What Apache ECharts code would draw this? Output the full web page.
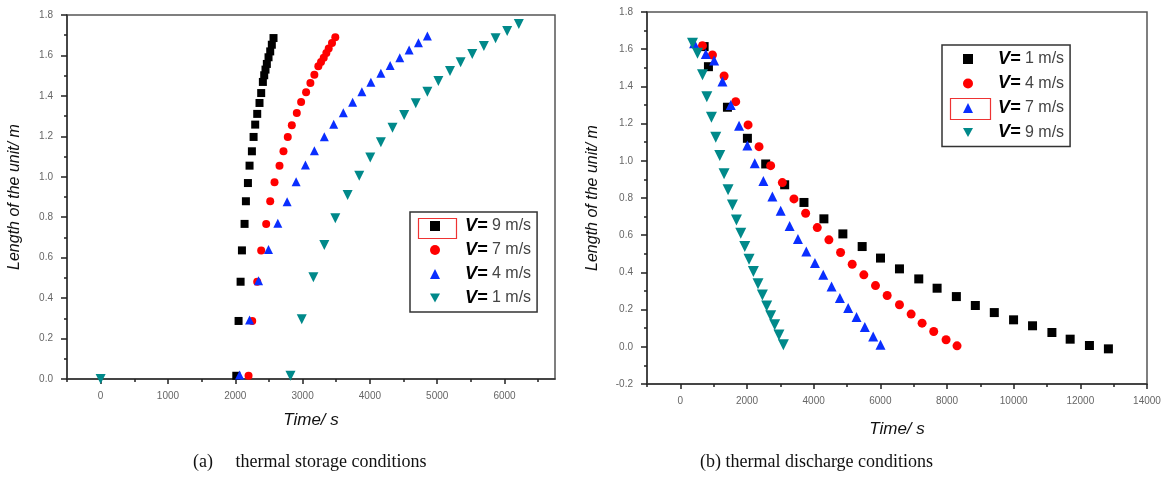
<!DOCTYPE html>
<html>
<head>
<meta charset="utf-8">
<script src="https://cdn.jsdelivr.net/npm/echarts@6/dist/echarts.min.js"></script>
<style>html,body{margin:0;padding:0;background:#fff}#c{width:1175px;height:479px}</style>
</head>
<body>
<div id="c"></div>
<script>
// (a) thermal storage conditions
const storageV9X = [2015, 2049, 2079, 2099, 2138, 2158, 2188, 2212, 2247, 2272, 2296, 2326, 2360, 2385, 2410, 2430, 2449, 2469, 2494, 2519, 2543, 2568];
const storageV9Y = [0.016, 0.287, 0.481, 0.636, 0.767, 0.879, 0.969, 1.055, 1.126, 1.197, 1.258, 1.311, 1.365, 1.414, 1.469, 1.502, 1.530, 1.558, 1.591, 1.620, 1.653, 1.686];
const storageV7X = [2197, 2252, 2326, 2385, 2459, 2519, 2583, 2657, 2716, 2780, 2840, 2914, 2978, 3052, 3116, 3175, 3234, 3274, 3314, 3353, 3388, 3437, 3486];
const storageV7Y = [0.016, 0.287, 0.481, 0.636, 0.767, 0.879, 0.973, 1.055, 1.126, 1.197, 1.255, 1.316, 1.370, 1.418, 1.464, 1.505, 1.546, 1.568, 1.588, 1.612, 1.634, 1.662, 1.690];
const storageV4X = [2064, 2212, 2346, 2494, 2632, 2770, 2904, 3042, 3175, 3323, 3462, 3605, 3743, 3881, 4015, 4163, 4301, 4444, 4583, 4721, 4854];
const storageV4Y = [0.020, 0.292, 0.486, 0.641, 0.770, 0.877, 0.976, 1.058, 1.129, 1.198, 1.260, 1.317, 1.368, 1.421, 1.467, 1.512, 1.550, 1.589, 1.627, 1.663, 1.696];
const storageV1X = [0, 2820, 2988, 3160, 3323, 3486, 3669, 3842, 4005, 4163, 4336, 4509, 4681, 4854, 5017, 5190, 5348, 5521, 5693, 5867, 6040, 6212];
const storageV1Y = [0, 0.016, 0.295, 0.503, 0.663, 0.795, 0.910, 1.005, 1.095, 1.171, 1.243, 1.306, 1.363, 1.421, 1.474, 1.523, 1.566, 1.607, 1.647, 1.685, 1.721, 1.756];

// (b) thermal discharge conditions
const dischargeV1X = [714, 843, 1413, 2012, 2561, 3130, 3709, 4307, 4876, 5455, 6005, 6574, 7153, 7703, 8281, 8850, 9419, 9997, 10566, 11147, 11695, 12273, 12842];
const dischargeV1Y = [1.614, 1.506, 1.288, 1.121, 0.983, 0.871, 0.776, 0.688, 0.607, 0.539, 0.477, 0.419, 0.365, 0.315, 0.270, 0.222, 0.184, 0.145, 0.113, 0.077, 0.041, 0.007, -0.011];
const dischargeV4X = [664, 963, 1313, 1662, 2032, 2361, 2710, 3060, 3409, 3759, 4108, 4457, 4807, 5156, 5505, 5855, 6205, 6574, 6924, 7253, 7602, 7972, 8301];
const dischargeV4Y = [1.619, 1.569, 1.456, 1.318, 1.193, 1.076, 0.974, 0.883, 0.795, 0.718, 0.641, 0.575, 0.507, 0.444, 0.387, 0.329, 0.276, 0.226, 0.176, 0.127, 0.082, 0.038, 0.005];
const dischargeV7X = [414, 764, 1013, 1263, 1512, 1762, 2012, 2232, 2491, 2761, 3010, 3279, 3529, 3779, 4038, 4288, 4537, 4787, 5036, 5286, 5535, 5786, 6005];
const dischargeV7Y = [1.632, 1.574, 1.539, 1.426, 1.300, 1.188, 1.082, 0.987, 0.892, 0.808, 0.732, 0.650, 0.579, 0.512, 0.450, 0.387, 0.324, 0.262, 0.208, 0.160, 0.106, 0.055, 0.011];
const dischargeV9X = [365, 515, 665, 794, 934, 1063, 1183, 1312, 1432, 1563, 1683, 1812, 1932, 2061, 2192, 2330, 2462, 2591, 2710, 2830, 2959, 3091];
const dischargeV9Y = [1.632, 1.578, 1.462, 1.345, 1.234, 1.127, 1.028, 0.930, 0.844, 0.763, 0.682, 0.611, 0.539, 0.471, 0.405, 0.339, 0.279, 0.220, 0.167, 0.118, 0.064, 0.011];

// tick labels
const xTicksA = [0, 1000, 2000, 3000, 4000, 5000, 6000];
const xMinorA = [-500, 500, 1500, 2500, 3500, 4500, 5500, 6500];
const xTicksB = [0, 2000, 4000, 6000, 8000, 10000, 12000, 14000];
const xMinorB = [-1000, 1000, 3000, 5000, 7000, 9000, 11000, 13000];

const legendLabels = {
  a9: '9 m/s', a7: '7 m/s', a4: '4 m/s', a1: '1 m/s',
  b1: '1 m/s', b4: '4 m/s', b7: '7 m/s', b9: '9 m/s'
};

const zip = (xs, ys) => xs.map((x, i) => [x, ys[i]]);
const downTri = 'path://M0,0L10,0L5,9Z';
const axisCol = '#333';
const labCol = '#666';
const FF = '"Liberation Sans", Arial, sans-serif';

function xMain(grid, min, max, ticks, gap) {
  return {
    type: 'value', gridIndex: grid, min: min, max: max, position: 'bottom',
    axisLine: {show: true, onZero: false, lineStyle: {color: axisCol, width: 1.5}},
    axisTick: {show: true, length: 5, customValues: ticks, lineStyle: {color: '#222', width: 1.5}},
    axisLabel: {customValues: ticks, color: labCol, fontSize: 10, fontFamily: FF, margin: 12,
      formatter: v => String(v)},
    splitLine: {show: false},
    name: 'Time/ s', nameLocation: 'middle', nameGap: gap,
    nameTextStyle: {fontStyle: 'italic', fontSize: 17, color: '#111', fontFamily: FF}
  };
}
function xMinor(grid, min, max, ticks) {
  return {
    type: 'value', gridIndex: grid, min: min, max: max, position: 'bottom',
    axisLine: {show: false, onZero: false},
    axisTick: {show: true, length: 3, customValues: ticks, lineStyle: {color: '#222', width: 1.5}},
    axisLabel: {show: false, customValues: ticks},
    splitLine: {show: false}
  };
}
function yAxis(grid, min, gap) {
  return {
    type: 'value', gridIndex: grid, min: min, max: 1.8, interval: 0.2,
    axisLine: {show: true, onZero: false, lineStyle: {color: axisCol, width: 1.5}},
    axisTick: {show: true, length: 6, lineStyle: {color: '#222', width: 1.5}},
    minorTick: {show: true, splitNumber: 2, length: 3, lineStyle: {color: '#222', width: 1.5}},
    axisLabel: {color: labCol, fontSize: 10, fontFamily: FF, margin: 14,
      formatter: v => (Math.abs(v) < 1e-9 ? 0 : v).toFixed(1)},
    splitLine: {show: false},
    name: 'Length of the unit/ m', nameLocation: 'middle', nameGap: gap, nameRotate: 90,
    nameTextStyle: {fontStyle: 'italic', fontSize: 16, color: '#111', fontFamily: FF}
  };
}
function sc(name, xi, yi, data, symbol, size, color) {
  return {
    type: 'scatter', name: name, xAxisIndex: xi, yAxisIndex: yi, data: data,
    symbol: symbol, symbolSize: size, itemStyle: {color: color, opacity: 1},
    emphasis: {disabled: true}, z: 3
  };
}
function legend(left, top, names, padLeft, gap) {
  return {
    orient: 'vertical', left: left, top: top, data: names,
    padding: [5, 6, 5, padLeft], itemWidth: 10, itemHeight: 10, itemGap: gap,
    borderColor: '#333', borderWidth: 1.5, backgroundColor: '#fff',
    selectedMode: false,
    formatter: n => '{v|V=}{n| ' + legendLabels[n] + '}',
    textStyle: {
      rich: {
        v: {fontStyle: 'italic', fontWeight: 'bold', fontSize: 18, color: '#000', fontFamily: FF, lineHeight: 16, padding: [0, 0, 0, 20]},
        n: {fontSize: 16, color: '#444', fontFamily: FF, lineHeight: 16}
      }
    }
  };
}

const chart = echarts.init(document.getElementById('c'), null, {renderer: 'canvas'});
chart.setOption({
  animation: false,
  backgroundColor: '#fff',
  grid: [
    {left: 67, top: 15, right: 620, bottom: 100, show: true, borderColor: '#555', borderWidth: 1.5, backgroundColor: 'transparent'},
    {left: 647, top: 12, right: 28, bottom: 95, show: true, borderColor: '#555', borderWidth: 1.5, backgroundColor: 'transparent'}
  ],
  xAxis: [
    xMain(0, -500, 6750, xTicksA, 33),
    xMinor(0, -500, 6750, xMinorA),
    xMain(1, -1000, 14000, xTicksB, 37),
    xMinor(1, -1000, 14000, xMinorB)
  ],
  yAxis: [yAxis(0, 0, 44), yAxis(1, -0.2, 46)],
  legend: [
    legend(410, 212, ['a9', 'a7', 'a4', 'a1'], 20, 6),
    legend(942, 45, ['b1', 'b4', 'b7', 'b9'], 21, 6.5)
  ],
  series: [
    sc('a9', 0, 0, zip(storageV9X, storageV9Y), 'rect', 8, '#000000'),
    sc('a7', 0, 0, zip(storageV7X, storageV7Y), 'circle', 8, '#ff0000'),
    sc('a4', 0, 0, zip(storageV4X, storageV4Y), 'triangle', 9, '#0a2eff'),
    sc('a1', 0, 0, zip(storageV1X, storageV1Y), downTri, 10, '#00898a'),
    sc('b1', 2, 1, zip(dischargeV1X, dischargeV1Y), 'rect', 9, '#000000'),
    sc('b4', 2, 1, zip(dischargeV4X, dischargeV4Y), 'circle', 9, '#ff0000'),
    sc('b7', 2, 1, zip(dischargeV7X, dischargeV7Y), 'triangle', 10, '#0a2eff'),
    sc('b9', 2, 1, zip(dischargeV9X, dischargeV9Y), downTri, 11, '#00898a')
  ],
  graphic: [
    {type: 'rect', left: 416, top: 216, shape: {width: 38, height: 20}, style: {fill: 'none', stroke: '#e33', lineWidth: 1.2}, z: 100},
    {type: 'rect', left: 948, top: 96, shape: {width: 40, height: 21}, style: {fill: 'none', stroke: '#e33', lineWidth: 1.2}, z: 100},
    {type: 'text', left: 193, top: 453, style: {text: '(a)     thermal storage conditions', font: '18px "Liberation Serif", "Times New Roman", serif', fill: '#111'}},
    {type: 'text', left: 700, top: 453, style: {text: '(b) thermal discharge conditions', font: '18px "Liberation Serif", "Times New Roman", serif', fill: '#111'}}
  ]
});
</script>
</body>
</html>
